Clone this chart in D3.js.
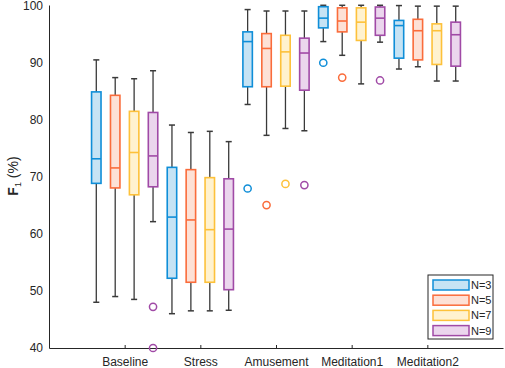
<!DOCTYPE html>
<html>
<head>
<meta charset="utf-8">
<script src="https://cdn.jsdelivr.net/npm/d3@7"></script>
<style>
  body { margin: 0; background: #fff; }
  text { font-family: "Liberation Sans", Arial, sans-serif; }
</style>
</head>
<body>
<div id="graph"></div>
<script>
const categories = ["Baseline", "Stress", "Amusement", "Meditation1", "Meditation2"];
const seriesNames = ["N=3", "N=5", "N=7", "N=9"];
const yTicks = [40, 50, 60, 70, 80, 90, 100];

// [lower whisker, q1, median, q3, upper whisker] per category
const statsN3 = [
    [48.0, 68.8, 73.1, 84.8, 90.4],
    [46.0, 52.2, 62.9, 71.6, 79.0],
    [82.6, 85.7, 93.6, 95.3, 99.2],
    [93.6, 96.0, 97.7, 99.7, 99.95],
    [88.8, 90.7, 96.4, 97.3, 99.9]
];
const statsN5 = [
    [49.0, 68.0, 71.5, 84.2, 87.3],
    [46.5, 51.5, 62.4, 71.2, 77.7],
    [77.2, 85.7, 92.4, 95.0, 98.95],
    [91.2, 95.3, 97.2, 99.5, 99.95],
    [89.2, 90.4, 95.5, 97.5, 99.8]
];
const statsN7 = [
    [48.5, 66.8, 74.2, 81.4, 87.1],
    [46.5, 51.5, 60.7, 69.8, 77.9],
    [78.4, 85.8, 91.8, 94.7, 98.95],
    [86.2, 93.8, 97.0, 99.5, 99.95],
    [86.7, 89.6, 95.5, 96.7, 99.8]
];
const statsN9 = [
    [62.1, 68.2, 73.6, 81.2, 88.5],
    [46.6, 50.2, 60.8, 69.6, 76.1],
    [78.0, 85.1, 91.6, 94.2, 98.95],
    [93.5, 94.7, 97.7, 99.65, 99.95],
    [86.7, 89.3, 94.8, 97.0, 99.8]
];
// outliers per category
const outliersN3 = [[], [], [67.9], [89.9], []];
const outliersN5 = [[], [], [65.0], [87.3], []];
const outliersN7 = [[], [], [68.7], [], []];
const outliersN9 = [[47.2, 40.0], [], [68.5], [86.8], []];

const strokes = ["#0f8ed8", "#fa6c3b", "#fdc13a", "#a04aa6"];
const fills = ["#c6e3f4", "#fde1d6", "#fff2cf", "#ebd6ed"];

const width = 505, height = 368;
const plotLeft = 49, plotRight = 503, plotTop = 5, plotBottom = 348;

const svg = d3.select("#graph").append("svg")
    .attr("width", width)
    .attr("height", height);

const xScale = d3.scaleLinear().domain([0, 6]).range([plotLeft, plotRight]);
const yScale = d3.scaleLinear().domain([40, 100]).range([plotBottom, plotTop]);

const allStats = [statsN3, statsN5, statsN7, statsN9];
const allOutliers = [outliersN3, outliersN5, outliersN7, outliersN9];
const groupStep = 0.25, boxW = 0.125, capW = 0.08;

// axes
const yAxis = svg.append("g")
    .attr("transform", "translate(" + plotLeft + ",0)")
    .call(d3.axisLeft(yScale).tickValues(yTicks).tickSize(0).tickPadding(6));
const xAxis = svg.append("g")
    .attr("transform", "translate(0," + plotBottom + ")")
    .call(d3.axisBottom(xScale).tickValues([1, 2, 3, 4, 5])
        .tickFormat((d) => categories[d - 1])
        .tickSizeInner(-3).tickSizeOuter(0).tickPadding(9));
[yAxis, xAxis].forEach((g) => {
    g.select(".domain").attr("stroke", "#262626").attr("stroke-width", 1);
    g.selectAll(".tick line").attr("stroke", "#262626");
    g.selectAll("text").attr("font-size", 12).attr("fill", "#262626")
        .style("font-family", "'Liberation Sans', Arial, sans-serif");
});
// keep the top label inside the picture
yAxis.selectAll(".tick text").filter((d) => d === 100).attr("dy", "0.4em");

// y label
const yLabel = svg.append("text")
    .attr("transform", "translate(18,176) rotate(-90)")
    .attr("text-anchor", "middle")
    .attr("font-size", 14)
    .attr("fill", "#262626");
yLabel.append("tspan").attr("font-weight", "bold").text("F");
yLabel.append("tspan").attr("font-size", 9).attr("dy", 3).text("1");
yLabel.append("tspan").attr("dy", -3).text(" (%)");

// boxes
allStats.forEach((stats, s) => {
    const g = svg.append("g").attr("class", "series" + s);
    stats.forEach((d, i) => {
        const cx = i + 1 + (s - 1.5) * groupStep;
        const [lo, q1, med, q3, hi] = d;
        // whiskers
        g.append("line")
            .attr("x1", xScale(cx)).attr("x2", xScale(cx))
            .attr("y1", yScale(q3)).attr("y2", yScale(hi))
            .attr("stroke", "#3a3a3a").attr("stroke-width", 1.3);
        g.append("line")
            .attr("x1", xScale(cx)).attr("x2", xScale(cx))
            .attr("y1", yScale(q1)).attr("y2", yScale(lo))
            .attr("stroke", "#3a3a3a").attr("stroke-width", 1.3);
        [lo, hi].forEach((v) => {
            g.append("line")
                .attr("x1", xScale(cx - capW / 2)).attr("x2", xScale(cx + capW / 2))
                .attr("y1", yScale(v)).attr("y2", yScale(v))
                .attr("stroke", "#3a3a3a").attr("stroke-width", 1.5);
        });
        g.append("rect")
            .attr("x", xScale(cx - boxW / 2))
            .attr("y", yScale(q3))
            .attr("width", xScale(boxW) - xScale(0))
            .attr("height", yScale(q1) - yScale(q3))
            .attr("fill", fills[s])
            .attr("stroke", strokes[s])
            .attr("stroke-width", 1.6);
        g.append("line")
            .attr("x1", xScale(cx - boxW / 2)).attr("x2", xScale(cx + boxW / 2))
            .attr("y1", yScale(med)).attr("y2", yScale(med))
            .attr("stroke", strokes[s]).attr("stroke-width", 1.6);
        allOutliers[s][i].forEach((v) => {
            g.append("circle")
                .attr("cx", xScale(cx)).attr("cy", yScale(v))
                .attr("r", 3.6)
                .attr("fill", "none")
                .attr("stroke", strokes[s])
                .attr("stroke-width", 1.5);
        });
    });
});

// legend
const legend = svg.append("g").attr("transform", "translate(428,275)");
legend.append("rect")
    .attr("width", 65).attr("height", 64)
    .attr("fill", "#fff").attr("stroke", "#262626").attr("stroke-width", 1);
seriesNames.forEach((name, s) => {
    const yy = 5 + s * 15.2;
    legend.append("rect")
        .attr("x", 5).attr("y", yy)
        .attr("width", 36).attr("height", 10)
        .attr("fill", fills[s]).attr("stroke", strokes[s]).attr("stroke-width", 1.5);
    legend.append("text")
        .attr("x", 43).attr("y", yy + 9)
        .attr("font-size", 11).attr("fill", "#262626")
        .text(name);
});
</script>
</body>
</html>
